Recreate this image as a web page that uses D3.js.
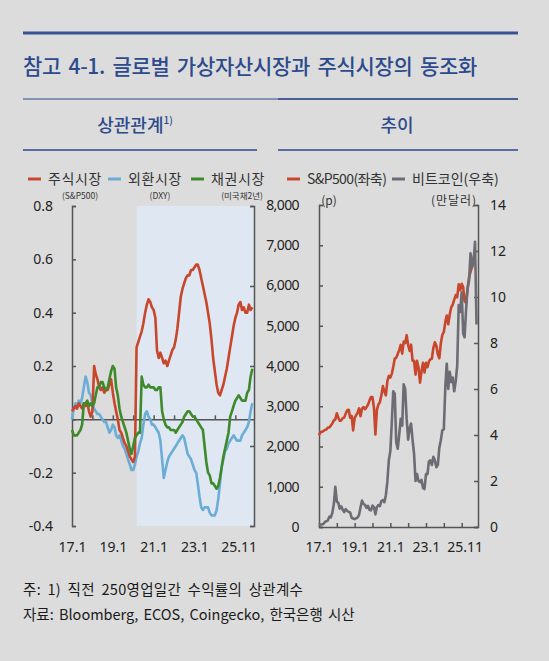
<!DOCTYPE html>
<html>
<head>
<meta charset="utf-8">
<script src="https://cdn.jsdelivr.net/npm/d3@7"></script>
<style>
  body { margin: 0; background: #dcdcdc; }
  svg { display: block; font-family: "Noto Sans CJK KR", "Noto Sans", sans-serif; }
  .tick text { font-family: "Noto Sans", "Noto Sans CJK KR", sans-serif; font-size: 14px; fill: #222; }
</style>
</head>
<body>
<svg id="chart"></svg>
<script>
(function () {
  'use strict';

  // monthly values, 2017.1 ~ 2025.11
  var corrStock = [
    0.03, 0.04, 0.05, 0.04, 0.06, 0.05, 0.04, 0.06, 0.05, 0.06, 0.03, 0.01,
    0.03, 0.20, 0.17, 0.15, 0.12, 0.11, 0.12, 0.10, 0.11, 0.11, 0.13, 0.15,
    0.10, 0.06, 0.03, 0.00, -0.04, -0.05, -0.07, -0.09, -0.10, -0.12, -0.14, -0.15,
    -0.16, -0.14, 0.27, 0.29, 0.31, 0.33, 0.36, 0.40, 0.43, 0.45, 0.44, 0.42,
    0.41, 0.38, 0.26, 0.23, 0.25, 0.23, 0.21, 0.22, 0.20, 0.22, 0.24, 0.26,
    0.27, 0.30, 0.34, 0.40, 0.46, 0.49, 0.51, 0.53, 0.54, 0.54, 0.56, 0.56,
    0.57, 0.58, 0.58, 0.56, 0.53, 0.50, 0.47, 0.44, 0.40, 0.36, 0.30, 0.23,
    0.18, 0.13, 0.10, 0.09, 0.11, 0.13, 0.16, 0.19, 0.23, 0.27, 0.31, 0.35,
    0.38, 0.40, 0.43, 0.44, 0.41, 0.42, 0.40, 0.40, 0.43, 0.41, 0.42
  ];
  var corrFx = [
    0.00, 0.04, 0.06, 0.05, 0.07, 0.06, 0.08, 0.12, 0.16, 0.14, 0.10, 0.09,
    0.06, 0.04, 0.03, 0.02, 0.02, 0.01, 0.00, -0.01, -0.01, -0.03, -0.05, -0.04,
    -0.02, -0.03, -0.06, -0.07, -0.06, -0.08, -0.10, -0.11, -0.13, -0.15, -0.17, -0.19,
    -0.19, -0.17, -0.14, -0.12, -0.09, -0.07, -0.02, 0.02, 0.03, 0.01, 0.00, -0.02,
    -0.02, -0.03, -0.04, -0.05, -0.08, -0.15, -0.22, -0.19, -0.16, -0.14, -0.13, -0.12,
    -0.11, -0.10, -0.09, -0.08, -0.07, -0.06, -0.07, -0.10, -0.13, -0.14, -0.15, -0.17,
    -0.19, -0.20, -0.24, -0.29, -0.33, -0.34, -0.33, -0.33, -0.33, -0.35, -0.36, -0.36,
    -0.36, -0.34, -0.30, -0.24, -0.18, -0.15, -0.12, -0.11, -0.09, -0.08, -0.07, -0.06,
    -0.07, -0.08, -0.08, -0.08, -0.06, -0.05, -0.04, -0.03, -0.01, 0.03, 0.06
  ];
  var corrBond = [
    -0.04, -0.06, -0.06, -0.06, -0.05, -0.04, -0.02, 0.06, 0.06, 0.07, 0.05, 0.06,
    0.05, 0.06, 0.09, 0.12, 0.12, 0.14, 0.14, 0.12, 0.11, 0.12, 0.15, 0.18,
    0.20, 0.19, 0.12, 0.09, 0.04, 0.01, -0.01, -0.03, -0.05, -0.08, -0.11, -0.13,
    -0.10, -0.07, -0.06, -0.05, -0.05, 0.16, 0.13, 0.12, 0.12, 0.13, 0.12, 0.12,
    0.12, 0.11, 0.11, 0.12, 0.12, 0.03, 0.00, -0.02, -0.03, -0.03, -0.04, -0.04,
    -0.04, -0.05, -0.04, -0.03, -0.02, -0.01, 0.01, 0.02, 0.03, 0.03, 0.02, 0.01,
    0.01, 0.00, -0.01, -0.02, -0.03, -0.04, -0.10, -0.16, -0.20, -0.21, -0.24, -0.24,
    -0.25, -0.26, -0.25, -0.22, -0.18, -0.14, -0.11, -0.08, -0.05, 0.01, 0.03, 0.05,
    0.07, 0.08, 0.09, 0.08, 0.07, 0.07, 0.07, 0.10, 0.11, 0.16, 0.19
  ];
  var spx = [
    2279, 2364, 2363, 2384, 2412, 2423, 2470, 2472, 2519, 2575, 2648, 2674,
    2824, 2714, 2641, 2648, 2705, 2718, 2816, 2902, 2914, 2712, 2760, 2400,
    2704, 2784, 2834, 2946, 2752, 2942, 2980, 2926, 2977, 3038, 3141, 3231,
    3226, 2954, 2300, 2912, 3044, 3100, 3271, 3500, 3363, 3270, 3622, 3756,
    3714, 3811, 3973, 4181, 4204, 4298, 4395, 4523, 4308, 4605, 4567, 4766,
    4516, 4374, 4530, 4132, 4132, 3785, 4130, 3955, 3586, 3872, 4080, 3840,
    4077, 3970, 4109, 4169, 4180, 4450, 4589, 4508, 4288, 4194, 4568, 4770,
    4846, 5096, 5254, 5036, 5278, 5460, 5522, 5648, 5762, 5705, 6032, 5882,
    6041, 5955, 5612, 5569, 5912, 6205, 6339, 6460, 6688, 6840, 6850
  ];
  // 만달러
  var btc = [
    0.10, 0.11, 0.11, 0.13, 0.22, 0.25, 0.28, 0.45, 0.42, 0.62, 1.00, 1.75,
    1.10, 1.05, 0.80, 0.90, 0.75, 0.65, 0.78, 0.70, 0.66, 0.63, 0.40, 0.37,
    0.34, 0.38, 0.41, 0.53, 0.85, 1.15, 1.00, 0.96, 0.83, 0.92, 0.75, 0.72,
    0.93, 0.86, 0.55, 0.87, 0.95, 0.91, 1.13, 1.17, 1.08, 1.38, 1.98, 2.90,
    3.30, 4.60, 5.90, 5.80, 3.70, 3.40, 4.00, 4.70, 4.40, 6.20, 6.00, 4.70,
    3.80, 4.30, 4.50, 3.80, 3.20, 2.00, 2.30, 2.00, 1.95, 2.05, 1.70, 1.65,
    2.30, 2.30, 2.85, 2.90, 2.70, 3.05, 2.90, 2.60, 2.70, 3.45, 3.77, 4.20,
    4.25, 6.10, 7.10, 6.00, 6.75, 6.30, 6.50, 5.90, 6.35, 7.00, 9.65, 9.35,
    10.2, 8.40, 8.25, 9.45, 10.4, 10.7, 11.9, 11.3, 11.5, 12.4, 8.80
  ];
  var months = d3.timeMonth.range(new Date(2017, 0, 1), new Date(2025, 10, 2));

  var corrTicks = [-0.4, -0.2, 0, 0.2, 0.4, 0.6, 0.8];
  var spxTicks = [0, 1000, 2000, 3000, 4000, 5000, 6000, 7000, 8000];
  var btcTicks = [0, 2, 4, 6, 8, 10, 12, 14];
  var xLabels = ['17.1', '19.1', '21.1', '23.1', '25.11'];
  var xLabelDates = [new Date(2017, 0, 1), new Date(2019, 0, 1), new Date(2021, 0, 1),
                     new Date(2023, 0, 1), new Date(2025, 2, 1)];
  var shadeStart = new Date(2020, 2, 1);

  var RED = '#c8462b', BLUE = '#6badd6', GREEN = '#3e8a2b', GRAY = '#6c6c74';
  var NAVY = '#2d4b8c', AXIS = '#555';

  var W = 549, H = 661;
  var svg = d3.select('#chart').attr('width', W).attr('height', H);
  svg.append('rect').attr('width', W).attr('height', H).attr('fill', '#dcdcdc');

  // header
  svg.append('line').attr('x1', 23).attr('x2', 518).attr('y1', 33).attr('y2', 33)
    .attr('stroke', '#3a5294').attr('stroke-width', 3);
  svg.append('text').attr('x', 23).attr('y', 74)
    .attr('font-size', 21).attr('font-weight', 500).attr('letter-spacing', -0.3)
    .attr('word-spacing', 3).attr('fill', NAVY)
    .text('참고 4-1. 글로벌 가상자산시장과 주식시장의 동조화');
  svg.append('line').attr('x1', 23).attr('x2', 278).attr('y1', 99).attr('y2', 99)
    .attr('stroke', '#8692b6').attr('stroke-width', 2);
  svg.append('line').attr('x1', 278).attr('x2', 518).attr('y1', 99).attr('y2', 99)
    .attr('stroke', '#4a5e98').attr('stroke-width', 2);
  var sub = svg.append('text').attr('x', 135).attr('y', 132).attr('text-anchor', 'middle')
    .attr('font-size', 18).attr('font-weight', 500).attr('fill', NAVY);
  sub.append('tspan').text('상관관계');
  sub.append('tspan').attr('font-size', 10).attr('dy', -8).text('1)');
  svg.append('text').attr('x', 397).attr('y', 132).attr('text-anchor', 'middle')
    .attr('font-size', 18).attr('font-weight', 500).attr('fill', NAVY).text('추이');
  [[23, 257], [278, 518]].forEach(function (s) {
    svg.append('line').attr('x1', s[0]).attr('x2', s[1]).attr('y1', 150).attr('y2', 150)
      .attr('stroke', '#5a6ca0').attr('stroke-width', 2);
  });

  // legend
  var legend = [
    { x: 28, color: RED, label: '주식시장', ls: 0.6, sub: '(S&P500)', sx: 80 },
    { x: 108, color: BLUE, label: '외환시장', ls: 0.6, sub: '(DXY)', sx: 160 },
    { x: 191, color: GREEN, label: '채권시장', ls: 0.6, sub: '(미국채2년)', sx: 242 },
    { x: 287, color: RED, label: 'S&P500(좌축)', ls: -0.6 },
    { x: 392, color: GRAY, label: '비트코인(우축)', ls: 0 }
  ];
  legend.forEach(function (d) {
    svg.append('line').attr('x1', d.x).attr('x2', d.x + 13).attr('y1', 179).attr('y2', 179)
      .attr('stroke', d.color).attr('stroke-width', 3);
    svg.append('text').attr('x', d.x + 20).attr('y', 184).attr('font-size', 14)
      .attr('letter-spacing', d.ls).attr('fill', '#333').text(d.label);
    if (d.sub) {
      svg.append('text').attr('x', d.sx).attr('y', 199).attr('text-anchor', 'middle')
        .attr('font-size', 8.5).attr('fill', '#333').text(d.sub);
    }
  });
  svg.append('text').attr('x', 329).attr('y', 205).attr('text-anchor', 'middle')
    .attr('font-size', 12).attr('fill', '#333').text('(p)');
  svg.append('text').attr('x', 454).attr('y', 205).attr('text-anchor', 'middle')
    .attr('font-size', 12).attr('letter-spacing', 1).attr('fill', '#333').text('(만달러)');

  var domain = [new Date(2017, 0, 1), new Date(2025, 11, 1)];

  function styleAxis(g) {
    g.selectAll('.domain, .tick line').attr('stroke', AXIS).attr('stroke-width', 1.5);
  }

  // ---- left: correlation ----
  var xL = d3.scaleTime().domain(domain).range([72, 254]);
  var yL = d3.scaleLinear().domain([-0.4, 0.8]).range([526, 206]);

  svg.append('rect').attr('x', xL(shadeStart)).attr('y', yL(0.8))
    .attr('width', xL.range()[1] - xL(shadeStart)).attr('height', yL(-0.4) - yL(0.8))
    .attr('fill', '#dfe7f2');

  svg.append('g').attr('transform', 'translate(72,0)')
    .call(d3.axisLeft(yL).tickValues(corrTicks).tickSize(-4).tickPadding(19)
      .tickFormat(function (d) { return d.toFixed(1); }))
    .call(styleAxis);
  svg.append('g').attr('transform', 'translate(254,0)')
    .call(d3.axisLeft(yL).tickValues([0.8, 0.5, 0.2, -0.1, -0.4]).tickSize(4).tickFormat(''))
    .call(styleAxis);
  svg.append('g').attr('transform', 'translate(0,' + yL(0) + ')')
    .call(d3.axisTop(xL).ticks(d3.timeYear).tickSize(4).tickSizeOuter(0).tickFormat(''))
    .call(styleAxis);
  svg.append('g').attr('transform', 'translate(0,542)')
    .call(d3.axisBottom(xL).tickValues(xLabelDates).tickSize(0).tickPadding(0)
      .tickFormat(function (d, i) { return xLabels[i]; }))
    .call(function (g) { g.select('.domain').remove(); });

  var lineL = d3.line().x(function (d, i) { return xL(months[i]); })
    .y(function (d) { return yL(d); });
  [[corrFx, BLUE], [corrStock, RED], [corrBond, GREEN]].forEach(function (s) {
    svg.append('path').datum(s[0]).attr('d', lineL).attr('fill', 'none')
      .attr('stroke', s[1]).attr('stroke-width', 2.6).attr('stroke-linejoin', 'round');
  });

  // ---- right: trend ----
  var xR = d3.scaleTime().domain(domain).range([319, 478]);
  var ySpx = d3.scaleLinear().domain([0, 8000]).range([527, 205]);
  var yBtc = d3.scaleLinear().domain([0, 14]).range([527, 205]);

  svg.append('g').attr('transform', 'translate(319,0)')
    .call(d3.axisLeft(ySpx).tickValues(spxTicks).tickSize(-4).tickPadding(20)
      .tickFormat(d3.format(',')))
    .call(styleAxis)
    .call(function (g) { g.selectAll('text').attr('letter-spacing', -0.6); });
  svg.append('g').attr('transform', 'translate(478,0)')
    .call(d3.axisRight(yBtc).tickValues(btcTicks).tickSize(-4).tickPadding(12))
    .call(styleAxis);
  svg.append('g').attr('transform', 'translate(0,527)')
    .call(d3.axisTop(xR).ticks(d3.timeYear).tickSize(4).tickSizeOuter(0).tickFormat(''))
    .call(styleAxis);
  svg.append('g').attr('transform', 'translate(0,542)')
    .call(d3.axisBottom(xR).tickValues(xLabelDates).tickSize(0).tickPadding(0)
      .tickFormat(function (d, i) { return xLabels[i]; }))
    .call(function (g) { g.select('.domain').remove(); });

  var lineSpx = d3.line().x(function (d, i) { return xR(months[i]); })
    .y(function (d) { return ySpx(d); });
  var lineBtc = d3.line().x(function (d, i) { return xR(months[i]); })
    .y(function (d) { return yBtc(d); });
  svg.append('path').datum(spx).attr('d', lineSpx).attr('fill', 'none')
    .attr('stroke', RED).attr('stroke-width', 2.6).attr('stroke-linejoin', 'round');
  svg.append('path').datum(btc).attr('d', lineBtc).attr('fill', 'none')
    .attr('stroke', GRAY).attr('stroke-width', 2.6).attr('stroke-linejoin', 'round');

  // notes
  svg.append('text').attr('x', 23).attr('y', 595).attr('font-size', 14.5).attr('fill', '#1a1a1a')
    .attr('letter-spacing', 0.3).attr('word-spacing', 3)
    .text('주: 1) 직전 250영업일간 수익률의 상관계수');
  svg.append('text').attr('x', 23).attr('y', 620).attr('font-size', 14.5).attr('fill', '#1a1a1a')
    .attr('word-spacing', 2).text('자료: Bloomberg, ECOS, Coingecko, 한국은행 시산');
})();
</script>
</body>
</html>
